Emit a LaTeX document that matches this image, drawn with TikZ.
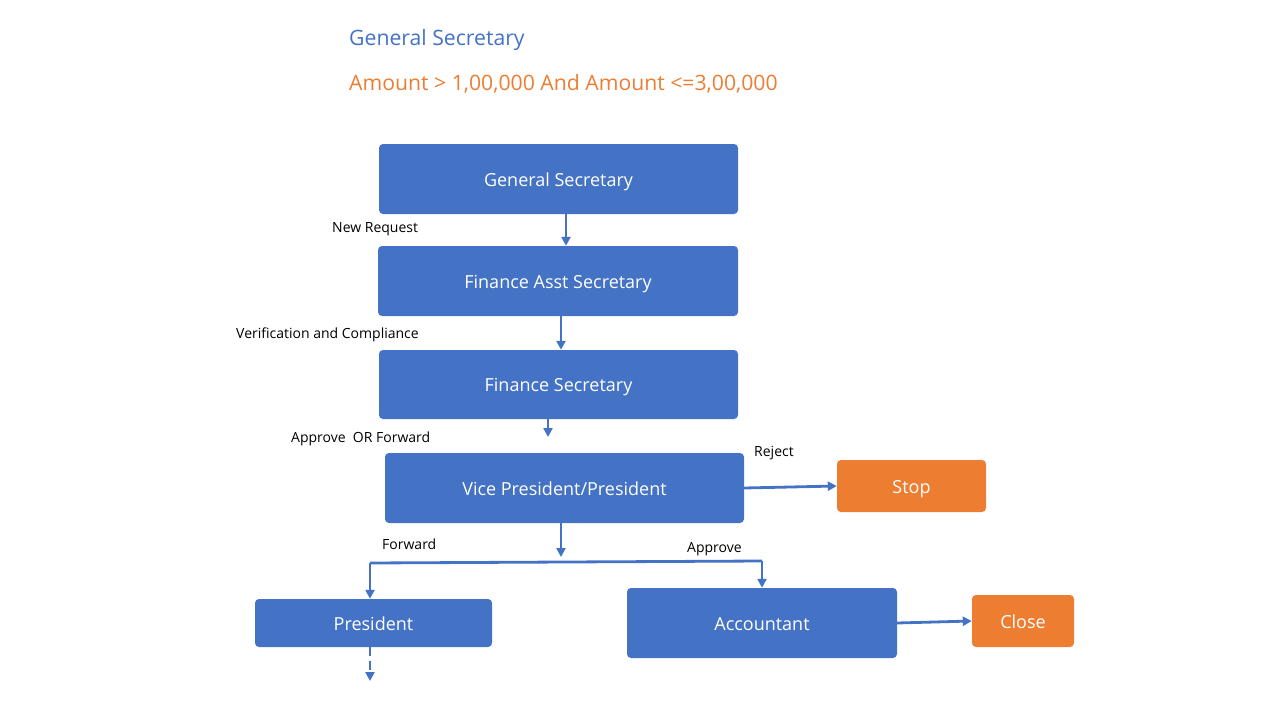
\documentclass[tikz,border=0pt]{standalone}
\usepackage{fontspec}
\setmainfont{Open Sans}
\usetikzlibrary{positioning,arrows.meta}
\definecolor{boxblue}{HTML}{4472C4}
\definecolor{boxorange}{HTML}{ED7D31}

\begin{document}
\begin{tikzpicture}[x=1pt, y=-1pt, >={Triangle[length=9pt,width=9pt]},
        box/.style={draw=none, fill=boxblue, rounded corners=4pt, text=white,
                    font=\fontsize{18}{20}\selectfont, align=center, inner sep=0pt,
                    text depth=1pt, text height=15pt},
        endbox/.style={box, fill=boxorange},
        lbl/.style={anchor=west, inner sep=0pt, font=\fontsize{14}{16}\selectfont},
        flow/.style={->, draw=boxblue, line width=2.8pt}]
        \useasboundingbox (0,0) rectangle (1280,720);
        % headings
        \node[anchor=west, inner sep=0pt, text=boxblue, font=\fontsize{21.2}{23}\selectfont]
            (head) at (349,40) {General Secretary};
        \node[anchor=west, inner sep=0pt, text=boxorange, font=\fontsize{21.2}{23}\selectfont]
            (rule) at (349,84) {Amount > 1,00,000 And Amount <=3,00,000};
        % steps
        \node[box, minimum width=359pt, minimum height=70pt] (gs)    at (558.5,179)   {General Secretary};
        \node[box, minimum width=360pt, minimum height=70pt] (fas)   at (558,281)     {Finance Asst Secretary};
        \node[box, minimum width=359pt, minimum height=69pt] (fs)    at (558.5,384.5) {Finance Secretary};
        \node[box, minimum width=359pt, minimum height=70pt] (vp)    at (564.5,488)   {Vice President/President};
        \node[endbox, minimum width=149pt, minimum height=52pt] (stop) at (911.5,486) {Stop};
        \node[box, minimum width=237pt, minimum height=48pt] (pres)  at (373.5,623)   {President};
        \node[box, minimum width=270pt, minimum height=70pt] (acc)   at (762,623)     {Accountant};
        \node[endbox, minimum width=102pt, minimum height=52pt] (close) at (1023,621) {Close};
        % labels
        \node[lbl] (lnew)  at (332,229) {New Request};
        \node[lbl] (lver)  at (236,335) {Verification and Compliance};
        \node[lbl] (lapf)  at (291,439) {Approve~~OR Forward};
        \node[lbl] (lrej)  at (754,453) {Reject};
        \node[lbl] (lfwd)  at (382,544) {Forward};
        \node[lbl] (lapp)  at (687,549) {Approve};
        % connectors
        \coordinate (fsend) at (548,437);
        \coordinate (vpend) at (561,557);
        \coordinate (brl)   at (370,563);
        \coordinate (brr)   at (762,561);
        \coordinate (dend)  at (370,681);
        \draw[flow] ([xshift=7.5pt]gs.south)  -- ([xshift=7.5pt]gs.south |- fas.north);
        \draw[flow] ([xshift=3pt]fas.south)   -- ([xshift=3pt]fas.south |- fs.north);
        \draw[flow] ([xshift=-10.5pt]fs.south) -- (fsend);
        \draw[flow] (vp.east) -- (stop.west);
        \draw[flow] ([xshift=-3.5pt]vp.south) -- (vpend);
        \draw[draw=boxblue, line width=2.8pt] (brl) -- (brr);
        \draw[flow] (brl) -- (brl |- pres.north);
        \draw[flow] (brr) -- (acc.north);
        \draw[flow] (acc.east) -- (close.west);
        \draw[flow, dash pattern=on 9pt off 5pt] (brl |- pres.south) -- (dend);
    \end{tikzpicture}
\end{document}
